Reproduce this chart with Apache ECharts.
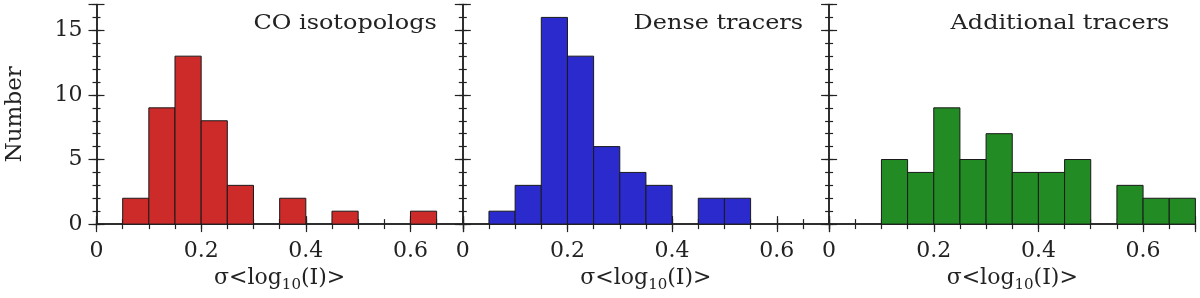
<!DOCTYPE html>
<html>
<head>
<meta charset="utf-8">
<script src="https://cdn.jsdelivr.net/npm/echarts@6/dist/echarts.min.js"></script>
<style>
html,body{margin:0;padding:0;background:#fff;}
#chart{width:1200px;height:298px;}
</style>
</head>
<body>
<div id="chart"></div>
<script>
// ---- data ----
var binStarts = [0, 0.05, 0.10, 0.15, 0.20, 0.25, 0.30, 0.35, 0.40, 0.45, 0.50, 0.55, 0.60, 0.65];
var binWidth = 0.05;
var panelTitles = ['CO isotopologs', 'Dense tracers', 'Additional tracers'];
var countsCO = [0, 2, 9, 13, 8, 3, 0, 2, 0, 1, 0, 0, 1, 0];
var countsDense = [0, 1, 3, 16, 13, 6, 4, 3, 0, 2, 2, 0, 0, 0];
var countsAdditional = [0, 0, 5, 4, 9, 5, 7, 4, 4, 5, 0, 3, 2, 2];
var xTickLabels = ['0', '0.2', '0.4', '0.6'];
var yTickLabels = ['0', '5', '10', '15'];
var xMin = 0, xMax = 0.7, yMin = 0, yMax = 17;

var panelCounts = [countsCO, countsDense, countsAdditional];
var panelColors = ['#cd2a2a', '#2a2acd', '#238b23'];

var FONT = 'DejaVu Serif';
var AX = '#222';
var gridLefts = [96.5, 462.8, 829.1];
var gridW = 366.3;
var gridTop = 4.5, gridBottomY = 230.3;

var grids = [], xAxes = [], yAxes = [], series = [], graphics = [];

function xLabel(v) {
  for (var i = 0; i < xTickLabels.length; i++) {
    if (Math.abs(parseFloat(xTickLabels[i]) - v) < 1e-6) return xTickLabels[i];
  }
  return '';
}
function yLabel(v) {
  for (var i = 0; i < yTickLabels.length; i++) {
    if (Math.abs(parseFloat(yTickLabels[i]) - v) < 1e-6) return yTickLabels[i];
  }
  return '';
}

for (var p = 0; p < 3; p++) {
  grids.push({left: gridLefts[p], top: gridTop, width: gridW, height: gridBottomY - gridTop, containLabel: false});
  var xi = xAxes.length, yi = yAxes.length;
  // bottom minor axis (labels + name)
  xAxes.push({
    type: 'value', gridIndex: p, position: 'bottom', min: xMin, max: xMax, interval: 0.05,
    axisLine: {show: true, lineStyle: {color: AX, width: 1.5}},
    axisTick: {show: true, inside: true, length: 5, lineStyle: {color: AX, width: 1.2}},
    axisLabel: {show: true, margin: 16, fontFamily: FONT, fontSize: 22, color: '#222', formatter: xLabel, showMaxLabel: false},
    splitLine: {show: false},
    name: '{a|σ<log}{s|10}{a|(I)>}', nameLocation: 'middle', nameGap: 41,
    nameTextStyle: {
      rich: {
        a: {fontFamily: FONT, fontSize: 22, color: '#222', lineHeight: 28, verticalAlign: 'top'},
        s: {fontFamily: FONT, fontSize: 15, color: '#222', lineHeight: 28, verticalAlign: 'top', padding: [11, 0, 0, 0]}
      }
    }
  });
  // top minor axis
  xAxes.push({
    type: 'value', gridIndex: p, position: 'top', min: xMin, max: xMax, interval: 0.05,
    axisLine: {show: true, lineStyle: {color: AX, width: 1.5}},
    axisTick: {show: true, inside: true, length: 5, lineStyle: {color: AX, width: 1.2}},
    axisLabel: {show: false}, splitLine: {show: false}
  });
  // bottom/top major ticks
  ['bottom', 'top'].forEach(function (pos) {
    xAxes.push({
      type: 'value', gridIndex: p, position: pos, min: xMin, max: xMax, interval: 0.2,
      axisLine: {show: false}, axisLabel: {show: false}, splitLine: {show: false},
      axisTick: {show: true, inside: true, length: 8, lineStyle: {color: AX, width: 1.2}}
    });
  });
  // left minor axis
  yAxes.push({
    type: 'value', gridIndex: p, position: 'left', min: yMin, max: yMax, interval: 1,
    axisLine: {show: true, lineStyle: {color: AX, width: 1.5}},
    axisTick: {show: true, inside: true, length: 4, lineStyle: {color: AX, width: 1.2}},
    axisLabel: {show: p === 0, margin: 14, fontFamily: FONT, fontSize: 22, color: '#222', formatter: yLabel, showMaxLabel: false},
    splitLine: {show: false},
    name: p === 0 ? 'Number' : '', nameLocation: 'middle', nameGap: 70,
    nameTextStyle: {fontFamily: FONT, fontSize: 23, color: '#222'}
  });
  yAxes.push({
    type: 'value', gridIndex: p, position: 'right', min: yMin, max: yMax, interval: 1,
    axisLine: {show: true, lineStyle: {color: AX, width: 1.5}},
    axisTick: {show: true, inside: true, length: 4, lineStyle: {color: AX, width: 1.2}},
    axisLabel: {show: false}, splitLine: {show: false}
  });
  ['left', 'right'].forEach(function (pos) {
    yAxes.push({
      type: 'value', gridIndex: p, position: pos, min: yMin, max: yMax, interval: 5,
      axisLine: {show: false}, axisLabel: {show: false}, splitLine: {show: false},
      axisTick: {show: true, inside: true, length: 8, lineStyle: {color: AX, width: 1.2}}
    });
  });

  var counts = panelCounts[p];
  var data = [];
  for (var i = 0; i < binStarts.length; i++) {
    if (counts[i] > 0) data.push([binStarts[i], binStarts[i] + binWidth, counts[i]]);
  }
  (function (color) {
    series.push({
      type: 'custom', xAxisIndex: xi, yAxisIndex: yi, data: data,
      encode: {x: [0, 1], y: 2},
      z: 1,
      renderItem: function (params, api) {
        var a = api.coord([api.value(0), api.value(2)]);
        var b = api.coord([api.value(1), 0]);
        return {
          type: 'rect',
          shape: {x: a[0], y: a[1], width: b[0] - a[0], height: b[1] - a[1]},
          style: {fill: color, stroke: '#1a1a1a', lineWidth: 1}
        };
      }
    });
  })(panelColors[p]);

  graphics.push({
    type: 'text', x: gridLefts[p] + gridW - 26, y: 24, scaleX: 1.14,
    style: {text: panelTitles[p], fontFamily: FONT, fontSize: 21, fill: '#222', textAlign: 'right', textVerticalAlign: 'middle'}
  });
}

var chart = echarts.init(document.getElementById('chart'), null, {renderer: 'canvas'});
chart.setOption({
  animation: false,
  backgroundColor: '#fff',
  grid: grids,
  xAxis: xAxes,
  yAxis: yAxes,
  series: series,
  graphic: graphics
});
</script>
</body>
</html>
